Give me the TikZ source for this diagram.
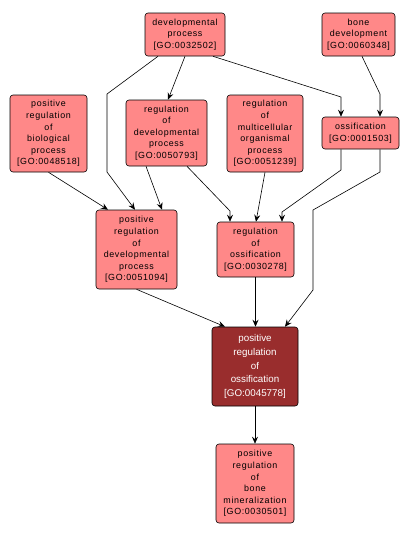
\documentclass[tikz,border=0pt]{standalone}
\usepackage{fontspec}
\newfontfamily\gofont[LetterSpace=7]{Liberation Sans}
\newfontfamily\hitfont{Liberation Sans}
\definecolor{golight}{RGB}{255,136,136}
\definecolor{godark}{RGB}{153,45,45}
\usetikzlibrary{arrows.meta,positioning,calc}

\begin{document}
\begin{tikzpicture}[x=1pt,y=-1pt,
  term/.style={draw=black,fill=golight,rounded corners=3pt,align=center,inner sep=0pt,
    font=\gofont\fontsize{8.9}{11.6}\selectfont,line width=0.6pt},
  hit/.style={term,fill=godark,text=white,font=\hitfont\fontsize{9.8}{13.8}\selectfont},
  edge/.style={draw=black,line width=0.6pt,-{Stealth[length=7pt,width=6pt,inset=2.5pt]}}]
\useasboundingbox (0,0) rectangle (410,536);
% terms
\node[term,minimum width=80,minimum height=43] (dev) at (185,34.5) {developmental\\process\\{[GO:0032502]}};
\node[term,minimum width=73,minimum height=43] (bone) at (358.5,34.5) {bone\\development\\{[GO:0060348]}};
\node[term,minimum width=77,minimum height=77] (posbio) at (48.5,133.5) {positive\\regulation\\of\\biological\\process\\{[GO:0048518]}};
\node[term,minimum width=81,minimum height=66] (regdev) at (166.5,133) {regulation\\of\\developmental\\process\\{[GO:0050793]}};
\node[term,minimum width=76,minimum height=77] (regmulti) at (265,133.5) {regulation\\of\\multicellular\\organismal\\process\\{[GO:0051239]}};
\node[term,minimum width=77,minimum height=32] (ossif) at (360.5,133) {ossification\\{[GO:0001503]}};
\node[term,minimum width=81,minimum height=79] (posdev) at (136.5,249.5) {positive\\regulation\\of\\developmental\\process\\{[GO:0051094]}};
\node[term,minimum width=77,minimum height=55] (regoss) at (255.5,249.5) {regulation\\of\\ossification\\{[GO:0030278]}};
\node[hit,minimum width=86,minimum height=79] (pososs) at (255,366.5) {positive\\regulation\\of\\ossification\\{[GO:0045778]}};
\node[term,minimum width=78,minimum height=79] (posbone) at (255,483.5) {positive\\regulation\\of\\bone\\mineralization\\{[GO:0030501]}};
% bends
\coordinate (b1) at (107,94);
\coordinate (b2) at (107,172);
\coordinate (b3) at (341,97);
\coordinate (b4) at (380,94);
\coordinate (b5) at (230,211);
\coordinate (b6) at (341,170);
\coordinate (b7) at (282,212);
\coordinate (b8) at (380,172);
\coordinate (b9) at (313,210);
\coordinate (b10) at (313,290);
% links
\draw[edge] ([xshift=0]dev.south) -- ([xshift=1.5]regdev.north);
\draw[edge] ([xshift=28]dev.south) -- (b3) -- (ossif.north -| b3);
\draw[edge] ([xshift=-27]dev.south) -- (b1) -- (b2) -- ([xshift=-1.5]posdev.north);
\draw[edge] ([xshift=3.5]bone.south) -- (b4) -- (ossif.north -| b4);
\draw[edge] (posbio.south) -- ([xshift=-28.5]posdev.north);
\draw[edge] ([xshift=-20.5]regdev.south) -- ([xshift=25.5]posdev.north);
\draw[edge] ([xshift=20.5]regdev.south) -- (b5) -- (regoss.north -| b5);
\draw[edge] (regmulti.south) -- ([xshift=0.5]regoss.north);
\draw[edge] (ossif.south -| b6) -- (b6) -- (b7) -- (regoss.north -| b7);
\draw[edge] (ossif.south -| b8) -- (b8) -- (b9) -- (b10) -- ([xshift=30]pososs.north);
\draw[edge] (posdev.south) -- ([xshift=-30]pososs.north);
\draw[edge] (regoss.south) -- ([xshift=0.5]pososs.north);
\draw[edge] (pososs.south) -- (posbone.north);
\end{tikzpicture}
\end{document}
